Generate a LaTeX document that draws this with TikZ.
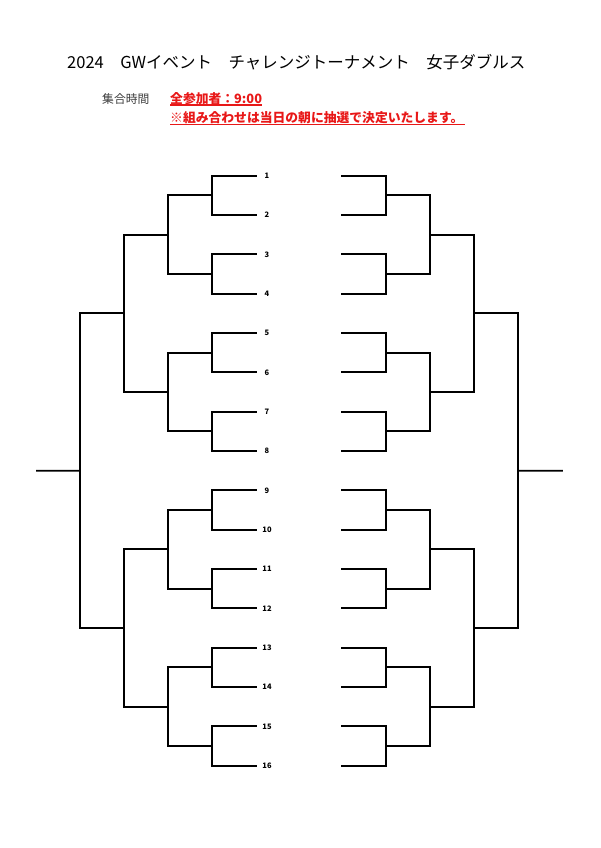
\documentclass[tikz,border=0pt]{standalone}
\usepackage{fontspec}
\setmainfont{Noto Sans CJK JP}
\definecolor{hdrred}{RGB}{232,24,24}
\definecolor{hdrgray}{RGB}{60,60,60}
\tikzset{
  bline/.style={line width=1.9pt, line cap=rect, line join=miter},
  numlabel/.style={font=\fontsize{7.5}{8}\selectfont\bfseries, inner sep=0pt, anchor=center},
  redtext/.style={font=\fontsize{12.8}{14}\selectfont\bfseries, text=hdrred, inner sep=0pt, anchor=base west},
  uline/.style={hdrred, line width=1.1pt}
}
\begin{document}
\begin{tikzpicture}[x=1pt,y=-1pt]
\useasboundingbox (0,0) rectangle (600,848);
% header
\node[font=\fontsize{16.5}{18}\selectfont, inner sep=0pt, anchor=base west] (title) at (67,68.5) {2024　GWイベント　チャレンジトーナメント　女子ダブルス};
\node[font=\fontsize{11.8}{14}\selectfont, text=hdrgray, inner sep=0pt, anchor=base west] (time) at (102,103) {集合時間};
\node[redtext] (r1) at (170,103) {全参加者：9:00};
\node[redtext] (r2) at (170,122.5) {※組み合わせは当日の朝に抽選で決定いたします。};
\coordinate (u1a) at (170,105); \coordinate (u1b) at (262,105);
\coordinate (u2a) at (170,124.5); \coordinate (u2b) at (465,124.5);
\draw[uline] (u1a) -- (u1b);
\draw[uline] (u2a) -- (u2b);
% level-k group coordinates: L-k-i (left horizontal's outer end), R-k-i
\foreach \k in {0,...,4}{
  \pgfmathtruncatemacro{\ng}{16/(2^\k)}
  \foreach \i in {1,...,\ng}{
    \pgfmathsetmacro{\yy}{175.7+39.333*((\i-1)*(2^\k)+((2^\k)-1)/2)}
    \pgfmathsetmacro{\xl}{256-44*\k}
    \pgfmathsetmacro{\xr}{342+44*\k}
    \coordinate (L-\k-\i) at (\xl,\yy);
    \coordinate (R-\k-\i) at (\xr,\yy);
  }
}
\foreach \i in {1,...,16}{
  \node[numlabel] (n\i) at ([xshift=11pt]L-0-\i) {\i};
}
% brackets
\foreach \k in {1,...,4}{
  \pgfmathtruncatemacro{\ng}{16/(2^\k)}
  \pgfmathtruncatemacro{\km}{\k-1}
  \foreach \i in {1,...,\ng}{
    \pgfmathtruncatemacro{\a}{2*\i-1}
    \pgfmathtruncatemacro{\b}{2*\i}
    \draw[bline] (L-\km-\a) -- (L-\k-\i|-L-\km-\a) -- (L-\k-\i|-L-\km-\b) -- (L-\km-\b);
    \draw[bline] (R-\km-\a) -- (R-\k-\i|-R-\km-\a) -- (R-\k-\i|-R-\km-\b) -- (R-\km-\b);
  }
}
\coordinate (LF) at (37,470.7);
\coordinate (RF) at (562,470.7);
\draw[bline] (L-4-1) -- (LF);
\draw[bline] (R-4-1) -- (RF);
\end{tikzpicture}
\end{document}
